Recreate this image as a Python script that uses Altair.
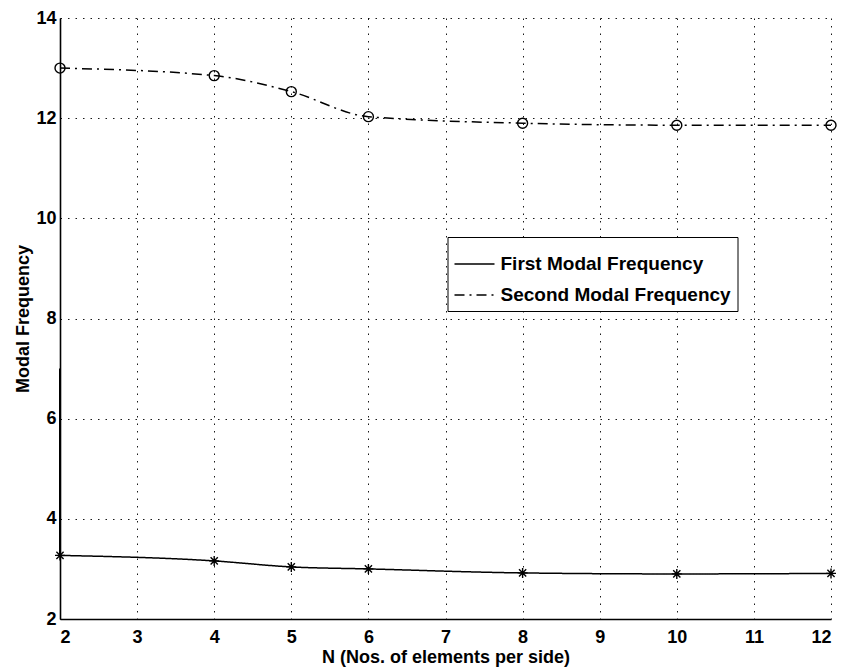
import altair as alt
import pandas as pd

# ---- data ----
n_values = [2, 4, 5, 6, 8, 10, 12]
first_modal = [3.27, 3.16, 3.04, 3.00, 2.92, 2.90, 2.91]
second_modal = [13.00, 12.85, 12.53, 12.03, 11.90, 11.86, 11.86]
series_names = ["First Modal Frequency", "Second Modal Frequency"]
first_start = 7.0  # initial value of first curve at N=2 (vertical segment)

x_ticks = list(range(2, 13))
y_ticks = list(range(2, 15, 2))

rows = []
for n, v in zip(n_values, first_modal):
    rows.append({"N": n, "freq": v, "series": series_names[0]})
for n, v in zip(n_values, second_modal):
    rows.append({"N": n, "freq": v, "series": series_names[1]})
df = pd.DataFrame(rows)

seg = pd.DataFrame({"N": [n_values[0]], "freq": [first_start], "freq2": [first_modal[0]]})

FONT = "Liberation Sans"
asterisk = "M-1,0L1,0M0,-1L0,1M-0.72,-0.72L0.72,0.72M-0.72,0.72L0.72,-0.72"

x_enc = alt.X("N:Q", scale=alt.Scale(domain=[2, 12], nice=False, zero=False),
              axis=alt.Axis(values=x_ticks, title="N (Nos. of elements per side)",
                            format="d"))
y_enc = alt.Y("freq:Q", scale=alt.Scale(domain=[2, 14], nice=False, zero=False),
              axis=alt.Axis(values=y_ticks, title="Modal Frequency", format="d"))

lines = alt.Chart(df).mark_line(color="black", strokeWidth=1.5, interpolate="monotone").encode(
    x=x_enc,
    y=y_enc,
    strokeDash=alt.StrokeDash(
        "series:N",
        scale=alt.Scale(domain=series_names, range=[[1, 0], [10, 5, 2, 5]]),
        legend=alt.Legend(
            title=None,
            orient="none", legendX=387.5, legendY=219,
            symbolType="stroke", symbolSize=1600, symbolStrokeWidth=1.3,
            symbolStrokeColor="black",
            labelFont=FONT, labelFontSize=19, labelFontWeight="bold",
            labelColor="black", labelLimit=400, labelOffset=5,
            rowPadding=-6, padding=6,
            strokeColor="black", fillColor="white",
        ),
    ),
)

pts_first = alt.Chart(df).transform_filter(
    alt.datum.series == series_names[0]
).mark_point(color="black", filled=False, size=100, strokeWidth=1.4, opacity=1,
             shape=asterisk).encode(x="N:Q", y="freq:Q")

pts_second = alt.Chart(df).transform_filter(
    alt.datum.series == series_names[1]
).mark_point(color="black", filled=False, size=100, strokeWidth=1.4, opacity=1,
             shape="circle").encode(x="N:Q", y="freq:Q")

start_seg = alt.Chart(seg).mark_rule(color="black", strokeWidth=2).encode(
    x="N:Q", y="freq:Q", y2="freq2:Q"
)

chart = alt.layer(lines, start_seg, pts_first, pts_second).properties(
    width=771, height=601,
    autosize=alt.AutoSizeParams(type="none"),
    padding={"left": 52, "top": 10, "right": 10, "bottom": 50},
).configure_view(stroke=None).configure_axis(
    labelFont=FONT, titleFont=FONT,
    labelFontSize=18, titleFontSize=18,
    labelFontWeight="bold", titleFontWeight="bold",
    labelColor="black", titleColor="black",
    domainColor="black", domainWidth=1.6,
    ticks=False,
    gridColor="black", gridDash=[1.5, 6], gridOpacity=0.9, gridWidth=1,
).configure_axisX(
    labelPadding=9, titlePadding=2,
).configure_axisY(
    labelPadding=4, titlePadding=3,
)

chart.save("out.html", embed_options={"renderer": "svg", "actions": False})
